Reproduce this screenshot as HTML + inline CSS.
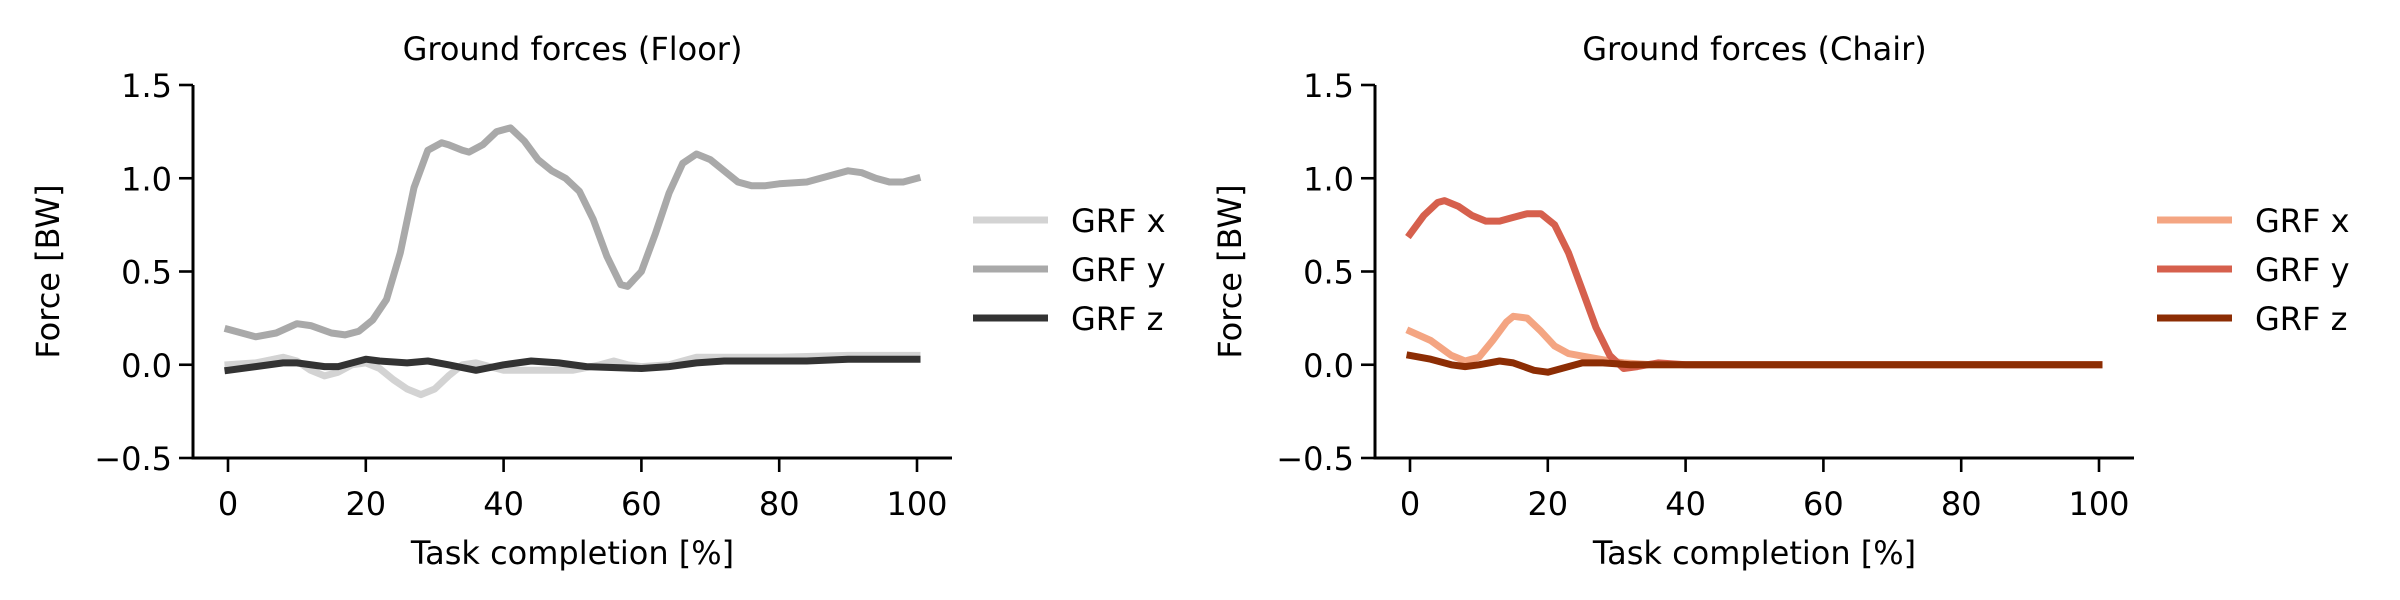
<!DOCTYPE html>
<html><head><meta charset="utf-8"><style>
html,body{margin:0;padding:0;background:#fff;}
svg{display:block;font-family:"DejaVu Sans","Liberation Sans",sans-serif;}
</style></head><body>
<svg id="c" width="2400" height="600" viewBox="0 0 2400 600"></svg>
<script>
const xTicks=[0,20,40,60,80,100];
const yTicks=[-0.5,0.0,0.5,1.0,1.5];
const yTickLabels=["\u22120.5","0.0","0.5","1.0","1.5"];
const seriesNames=["GRF x","GRF y","GRF z"];
const floorXx=[0,4,8,10,12,14,16,18,20,22,24,26,28,30,32,34,36,38,40,44,50,54,56,58,60,64,68,72,80,90,100];
const floorXv=[0,0.01,0.04,0.02,-0.03,-0.06,-0.04,0,0.01,-0.02,-0.08,-0.13,-0.16,-0.13,-0.06,0,0.01,-0.01,-0.03,-0.03,-0.03,0,0.02,0,-0.01,0,0.04,0.04,0.04,0.05,0.05];
const floorYx=[0,4,7,10,12,15,17,19,21,23,25,27,29,31,32,34,35,37,39,41,43,45,47,49,51,53,55,57,58,60,62,64,66,68,70,72,74,76,78,80,84,86,90,92,94,96,98,100];
const floorYv=[0.19,0.15,0.17,0.22,0.21,0.17,0.16,0.18,0.24,0.35,0.6,0.95,1.15,1.19,1.18,1.15,1.14,1.18,1.25,1.27,1.2,1.1,1.04,1.0,0.93,0.78,0.58,0.43,0.42,0.5,0.7,0.92,1.08,1.13,1.1,1.04,0.98,0.96,0.96,0.97,0.98,1.0,1.04,1.03,1.0,0.98,0.98,1.0];
const floorZx=[0,4,8,10,14,16,20,22,26,29,32,36,40,44,48,52,60,64,68,72,84,90,100];
const floorZv=[-0.03,-0.01,0.01,0.01,-0.01,-0.01,0.03,0.02,0.01,0.02,0,-0.03,0,0.02,0.01,-0.01,-0.02,-0.01,0.01,0.02,0.02,0.03,0.03];
const chairXx=[0,3,6,8,10,12,14,15,17,19,21,23,26,29,31,35,40,100];
const chairXv=[0.18,0.13,0.05,0.02,0.04,0.13,0.23,0.26,0.25,0.18,0.1,0.06,0.04,0.02,0.01,0,0,0];
const chairYx=[0,2,4,5,7,9,11,13,15,17,19,21,23,25,27,29,31,33,36,40,100];
const chairYv=[0.7,0.8,0.87,0.88,0.85,0.8,0.77,0.77,0.79,0.81,0.81,0.75,0.6,0.4,0.2,0.05,-0.02,-0.01,0.01,0,0];
const chairZx=[0,3,6,8,10,13,15,18,20,22,25,28,32,40,100];
const chairZv=[0.05,0.03,0,-0.01,0,0.02,0.01,-0.03,-0.04,-0.02,0.01,0.01,0,0,0];

const NS="http://www.w3.org/2000/svg";
const svg=document.getElementById('c');
function mk(tag,attrs,parent,text){const e=document.createElementNS(NS,tag);for(const k in attrs)e.setAttribute(k,attrs[k]);if(text!==undefined)e.textContent=text;(parent||svg).appendChild(e);return e;}
const FS=32;
function panel(p){
  const g=mk('g',{});
  
  
  const sx=v=>p.x0+(v-0)/(100)*(p.x100-p.x0);
  const sy=v=>p.yTop+(1.5-v)/(2.0)*(p.yBot-p.yTop);
  const t=mk('text',{x:(p.spine+p.right)/2,y:60,'text-anchor':'middle','font-size':FS},g,p.title);
  
  
  const ax=mk('line',{x1:p.spine,y1:p.yTop,x2:p.spine,y2:p.yBot+1.5,stroke:'#000','stroke-width':3},g);
  
  
  const bx=mk('line',{x1:p.spine-1.5,y1:p.yBot,x2:p.right,y2:p.yBot,stroke:'#000','stroke-width':3},g);
  
  
  yTicks.forEach((v,i)=>{
    mk('line',{x1:p.spine-14,y1:sy(v),x2:p.spine,y2:sy(v),stroke:'#000','stroke-width':2.6},g);
    const l=mk('text',{x:p.spine-21,y:sy(v)+12,'text-anchor':'end','font-size':FS},g,yTickLabels[i]);
    
    
  });
  xTicks.forEach(v=>{
    mk('line',{x1:sx(v),y1:p.yBot,x2:sx(v),y2:p.yBot+14,stroke:'#000','stroke-width':2.6},g);
    const l=mk('text',{x:sx(v),y:515,'text-anchor':'middle','font-size':FS},g,String(v));
    
    
  });
  const xl=mk('text',{x:(p.spine+p.right)/2,y:564,'text-anchor':'middle','font-size':FS},g,'Task completion [%]');
  
  
  const yl=mk('text',{x:p.ylab,y:(p.yTop+p.yBot)/2,'text-anchor':'middle','font-size':FS,transform:`rotate(-90 ${p.ylab} ${(p.yTop+p.yBot)/2})`},g,'Force [BW]');
  
  
  p.series.forEach((s,i)=>{
    const d=s.xs.map((x,j)=>(j?'L':'M')+sx(x).toFixed(1)+' '+sy(s.vs[j]).toFixed(1)).join(' ');
    const pa=mk('path',{d:d,fill:'none',stroke:s.color,'stroke-width':7,'stroke-linejoin':'round','stroke-linecap':'square'},g);
    
    
    const ly=220+i*49;
    const le=mk('g',{},g);
    
    
    mk('line',{x1:p.legX,y1:ly,x2:p.legX+75,y2:ly,stroke:s.color,'stroke-width':7},le);
    mk('text',{x:p.legX+98,y:ly+12,'font-size':FS},le,seriesNames[i]);
  });
}
panel({name:'floor-panel',title:'Ground forces (Floor)',spine:193,right:952,x0:228,x100:917,yTop:85,yBot:458,ylab:59,legX:973,
  series:[{xs:floorXx,vs:floorXv,color:'#d3d3d3'},{xs:floorYx,vs:floorYv,color:'#a9a9a9'},{xs:floorZx,vs:floorZv,color:'#333333'}]});
panel({name:'chair-panel',title:'Ground forces (Chair)',spine:1375,right:2134,x0:1410,x100:2099,yTop:85,yBot:458,ylab:1241,legX:2157,
  series:[{xs:chairXx,vs:chairXv,color:'#f4a582'},{xs:chairYx,vs:chairYv,color:'#d6604d'},{xs:chairZx,vs:chairZv,color:'#8c2d04'}]});
</script>
</body></html>
